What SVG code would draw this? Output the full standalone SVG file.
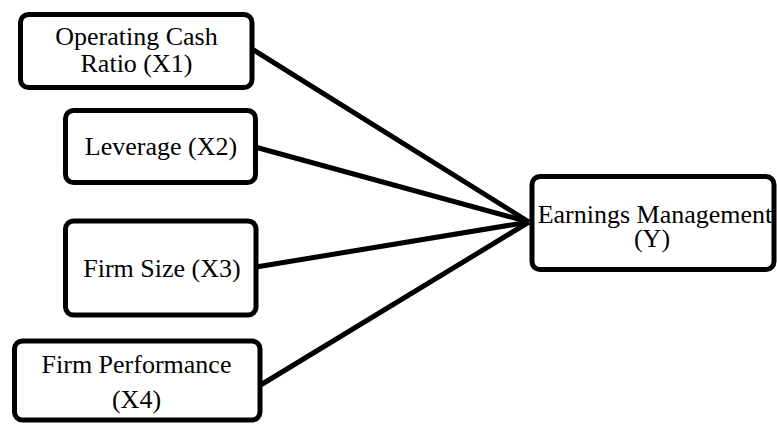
<svg xmlns="http://www.w3.org/2000/svg" width="777" height="424" viewBox="0 0 777 424">
<style>
.box{fill:#fff;stroke:#000;stroke-width:5}
.t{font-family:"Liberation Serif","Times New Roman",serif;font-size:26px;fill:#000;text-anchor:middle}
.c{stroke:#000;stroke-width:5;fill:none}
</style>
<rect width="777" height="424" fill="#fff"/>
<g id="connectors">
<line class="c" x1="252" y1="49" x2="529" y2="222"/>
<line class="c" x1="255" y1="147" x2="529" y2="222"/>
<line class="c" x1="256" y1="267" x2="529" y2="222"/>
<line class="c" x1="259" y1="386" x2="529" y2="222"/>
</g>
<g id="x1">
<rect class="box" x="20.5" y="14.5" width="231.5" height="73" rx="8"/>
<text class="t" x="136.5" y="45">Operating Cash</text>
<text class="t" x="136.5" y="72">Ratio (X1)</text>
</g>
<g id="x2">
<rect class="box" x="65.5" y="110.5" width="190" height="72" rx="8"/>
<text class="t" x="161" y="155">Leverage (X2)</text>
</g>
<g id="x3">
<rect class="box" x="65.5" y="221" width="190.5" height="94" rx="8"/>
<text class="t" x="162" y="277">Firm Size (X3)</text>
</g>
<g id="x4">
<rect class="box" x="14.5" y="341" width="245.5" height="79" rx="8"/>
<text class="t" x="136.5" y="373">Firm Performance</text>
<text class="t" x="136.5" y="408">(X4)</text>
</g>
<g id="y">
<rect class="box" x="532" y="176.5" width="242" height="93" rx="8"/>
<text class="t" x="655" y="223">Earnings Management</text>
<text class="t" x="652" y="247">(Y)</text>
</g>
</svg>
